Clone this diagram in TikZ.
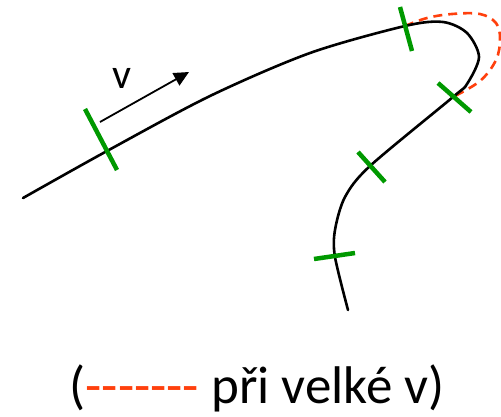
\documentclass[tikz,border=0pt]{standalone}
\usepackage{fontspec}
\setmainfont{Carlito}
\usepackage{tikz}
\usetikzlibrary{arrows.meta}
\definecolor{tickgreen}{rgb}{0.0,0.6,0.0}
\definecolor{dashred}{rgb}{1.0,0.25,0.05}
\tikzset{
	track/.style={line width=2.6pt, black, line cap=round},
	fasttrack/.style={line width=2.6pt, dashred, dash pattern=on 9pt off 6pt},
	tickmark/.style={line width=4.5pt, tickgreen},
	speed/.style={line width=1.8pt, -{Triangle[length=15pt,width=14pt]}},
	txt/.style={inner sep=0pt, anchor=base}
}
\begin{document}
\begin{tikzpicture}[x=1pt,y=-1pt]
	\useasboundingbox (0,0) rectangle (501,416);
	% points on the track
	\coordinate (start) at (23,198);
	\coordinate (ta) at (107,151);
	\coordinate (tb) at (405,26);
	\coordinate (turn) at (479,57);
	\coordinate (tc) at (453,97);
	\coordinate (td) at (370,166);
	\coordinate (te) at (335,257);
	\coordinate (stop) at (348,310);
	\draw[fasttrack] plot[smooth, tension=0.6] coordinates {(tb) (427,18) (452,14) (480,14) (496,23) (500,39) (496,60) (480,81) (tc)};
	\draw[track] plot[smooth, tension=0.5] coordinates {(start) (ta) (210,96) (310,53) (tb) (443,22) (467,33) (turn) (467,84) (tc) (td) (345,197) (335,230) (te) (stop)};
	% ticks
	\draw[tickmark] (85,109) -- (117,170);
	\draw[tickmark] (400,7) -- (412,51);
	\draw[tickmark] (438,83) -- (471,112);
	\draw[tickmark] (358,152) -- (385,182);
	\draw[tickmark] (314,259) -- (355,253);
	% velocity
	\coordinate (vfrom) at (100,122);
	\coordinate (vto) at (189,72);
	\draw[speed] (vfrom) -- (vto);
	\node[txt, font=\fontsize{42}{50}\selectfont] (v) at (122,88) {v};
	\node[txt, font=\fontsize{53}{62}\selectfont] (legend) at (257,403) {(\textcolor{dashred}{-{}-{}-{}-{}-{}-{}-}~při velké v)};
\end{tikzpicture}
\end{document}
